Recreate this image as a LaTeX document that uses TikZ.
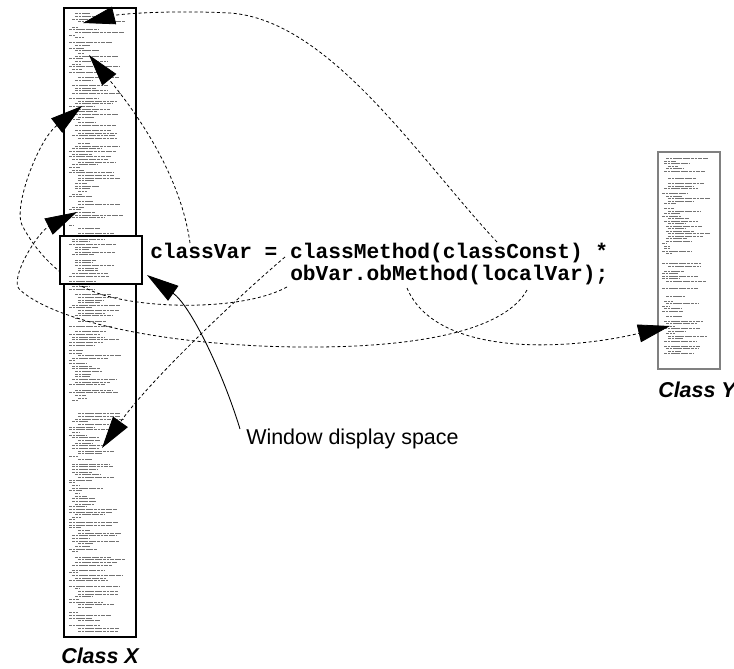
\documentclass[tikz,border=0pt]{standalone}
\usepackage{fontspec}
\setmainfont{Liberation Sans}
\newfontfamily\codefont{Liberation Mono}
\usetikzlibrary{arrows.meta}
\tikzset{
  refline/.style={line width=0.6pt, dash pattern=on 2.3pt off 1.9pt, -{Triangle[length=24pt,width=13.5pt]}},
  solidref/.style={line width=0.65pt, -{Triangle[length=24pt,width=13.5pt]}},
  txtline/.style={line width=0.5pt, black!55, dash pattern=on 2.6pt off 0.6pt on 1.5pt off 0.6pt on 3.4pt off 0.6pt},
  codetext/.style={inner sep=0pt, anchor=base west, font=\codefont\bfseries\fontsize{15.9}{19}\selectfont},
  labeltext/.style={inner sep=0pt, anchor=base west, font=\fontsize{16.1}{19}\selectfont},
  classlabel/.style={inner sep=0pt, anchor=base west, font=\bfseries\itshape\fontsize{16.1}{19}\selectfont},
  colframe/.style={line width=1.2pt, fill=white},
  pageframe/.style={line width=0.8pt, draw=black!50, fill=white},
  winframe/.style={line width=1.1pt}
}
\newcommand{\xtextlines}{%
  \pgfmathsetseed{4242}%
  \foreach \i in {0,...,234}{%
    \pgfmathrandominteger{\ra}{0}{6}%
    \pgfmathrandominteger{\rb}{0}{3}%
    \pgfmathrandominteger{\rc}{5}{50}%
    \ifnum\ra>0\relax
      \draw[txtline] ({69+3*\rb},{11+2.65*\i}) -- ++(\rc,0);%
    \fi
  }%
}
\newcommand{\ytextlines}{%
  \pgfmathsetseed{777}%
  \foreach \i in {0,...,79}{%
    \pgfmathrandominteger{\ra}{0}{6}%
    \pgfmathrandominteger{\rb}{0}{3}%
    \pgfmathrandominteger{\rc}{5}{42}%
    \ifnum\ra>1\relax
      \draw[txtline, line width=0.4pt] ({662+2*\rb},{156+2.5*\i}) -- ++(\rc,0);%
    \fi
  }%
}
\begin{document}
\begin{tikzpicture}[x=0.75pt,y=-0.75pt]
\useasboundingbox (0,0) rectangle (734,668);

% class X column and class Y page
\coordinate (xNW) at (64,8);
\coordinate (xSE) at (136,637);
\coordinate (yNW) at (658,152);
\coordinate (ySE) at (720,369);
\draw[colframe] (xNW) rectangle (xSE);
\draw[pageframe] (yNW) rectangle (ySE);
\xtextlines
\ytextlines

% end points
\coordinate (cConst) at (497,242);
\coordinate (cVar) at (190,243);
\coordinate (cMethod) at (285,257);
\coordinate (cObVar) at (287,287);
\coordinate (cObMethod) at (407,288);
\coordinate (cLocal) at (527,290);
\coordinate (xTip1) at (83,23);
\coordinate (xTip2) at (89,55);
\coordinate (xTip3) at (82,106);
\coordinate (xTip4) at (77,212);
\coordinate (xTip5) at (102,448);
\coordinate (yTip) at (670,326);
\coordinate (winStart) at (240,429);
\coordinate (winTip) at (147,275);

% dashed reference curves
\draw[refline] (cConst) .. controls (420,160) and (330,20) .. (230,13)
   .. controls (170,10) and (120,14) .. (xTip1);
\draw[refline] (cVar) .. controls (180,170) and (130,105) .. (xTip2);
\draw[refline] (cObVar) .. controls (245,310) and (150,310) .. (100,294)
   .. controls (70,284) and (40,260) .. (22,225)
   .. controls (13,207.5) and (38,140) .. (xTip3);
\draw[refline] (cLocal) .. controls (505,330) and (420,348) .. (300,347)
   .. controls (180,346) and (60,325) .. (20,290)
   .. controls (8,279.5) and (38,232) .. (xTip4);
\draw[refline] (cMethod) .. controls (240,295) and (150,380) .. (xTip5);
\draw[refline] (cObMethod) .. controls (435,355) and (560,352) .. (yTip);

% window box
\coordinate (wNW) at (60,236);
\coordinate (wSE) at (142,284);
\fill[white] (wNW) rectangle (wSE);
\begin{scope}
  \clip (wNW) rectangle (wSE);
  \xtextlines
\end{scope}
\draw[winframe] (wNW) rectangle (wSE);

% window label arrow
\draw[solidref] (winStart) .. controls (222,370) and (190,305) .. (winTip);

% texts
\node[codetext] (line1) at (150,258) {classVar = classMethod(classConst) *};
\node[codetext] (line2) at (290,280) {obVar.obMethod(localVar);};
\node[labeltext] (winlabel) at (246,444) {Window display space};
\node[classlabel] (xlabel) at (61,663) {Class X};
\node[classlabel] (ylabel) at (658,397) {Class Y};
\end{tikzpicture}
\end{document}
